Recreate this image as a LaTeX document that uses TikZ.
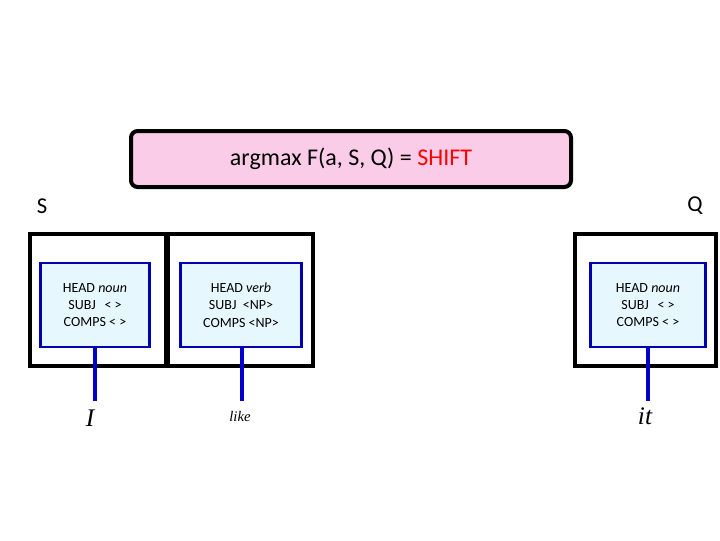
\documentclass[tikz,border=0pt]{standalone}
\usepackage{fontspec}
\setmainfont{Carlito}
\newfontfamily\serifw{Liberation Serif}
\begin{document}
\begin{tikzpicture}[x=0.75pt,y=-0.75pt,
  outer/.style={draw=black,line width=3pt,fill=white},
  inner/.style={draw=blue!70!black,line width=1.8pt,fill=cyan!10},
  stem/.style={draw=blue!80!black,line width=3pt},
  feat/.style={font=\fontsize{10.5}{13}\selectfont,align=center}]
\useasboundingbox (0,0) rectangle (720,540);
\node[draw=black,line width=3pt,fill=magenta!20,rounded corners=5pt,minimum width=330pt,minimum height=42pt,
  font=\fontsize{18}{20}\selectfont] (title) at (351,159) {argmax F(a, S, Q) = \textcolor{red}{SHIFT}};
\node[font=\fontsize{17}{20}\selectfont] (S) at (42,206) {S};
\node[font=\fontsize{17}{20}\selectfont] (Q) at (695,206) {Q};
\draw[outer] (30,234) rectangle (166,366);
\draw[outer] (168,234) rectangle (313,366);
\draw[outer] (575,234) rectangle (716,366);
\node[inner,minimum width=82pt,minimum height=63pt,feat] (n1) at (95,305) {HEAD \textit{noun}\\SUBJ \ \,< >\\COMPS < >};
\node[inner,minimum width=91pt,minimum height=63pt,feat] (n2) at (241,305) {HEAD \textit{verb}\\SUBJ \ <NP>\\COMPS <NP>};
\node[inner,minimum width=86pt,minimum height=63pt,feat] (n3) at (648,305) {HEAD \textit{noun}\\SUBJ \ \,< >\\COMPS < >};
\node[font=\serifw\itshape\fontsize{19}{20}\selectfont] (w1) at (90,418) {I};
\node[font=\serifw\itshape\fontsize{11}{12}\selectfont] (w2) at (240,416) {like};
\node[font=\serifw\itshape\fontsize{19}{20}\selectfont] (w3) at (645,416) {it};
\draw[stem] (n1.south -| 95,0) -- (95,401);
\draw[stem] (n2.south -| 242,0) -- (242,401);
\draw[stem] (n3.south -| 648,0) -- (648,401);
\end{tikzpicture}
\end{document}
